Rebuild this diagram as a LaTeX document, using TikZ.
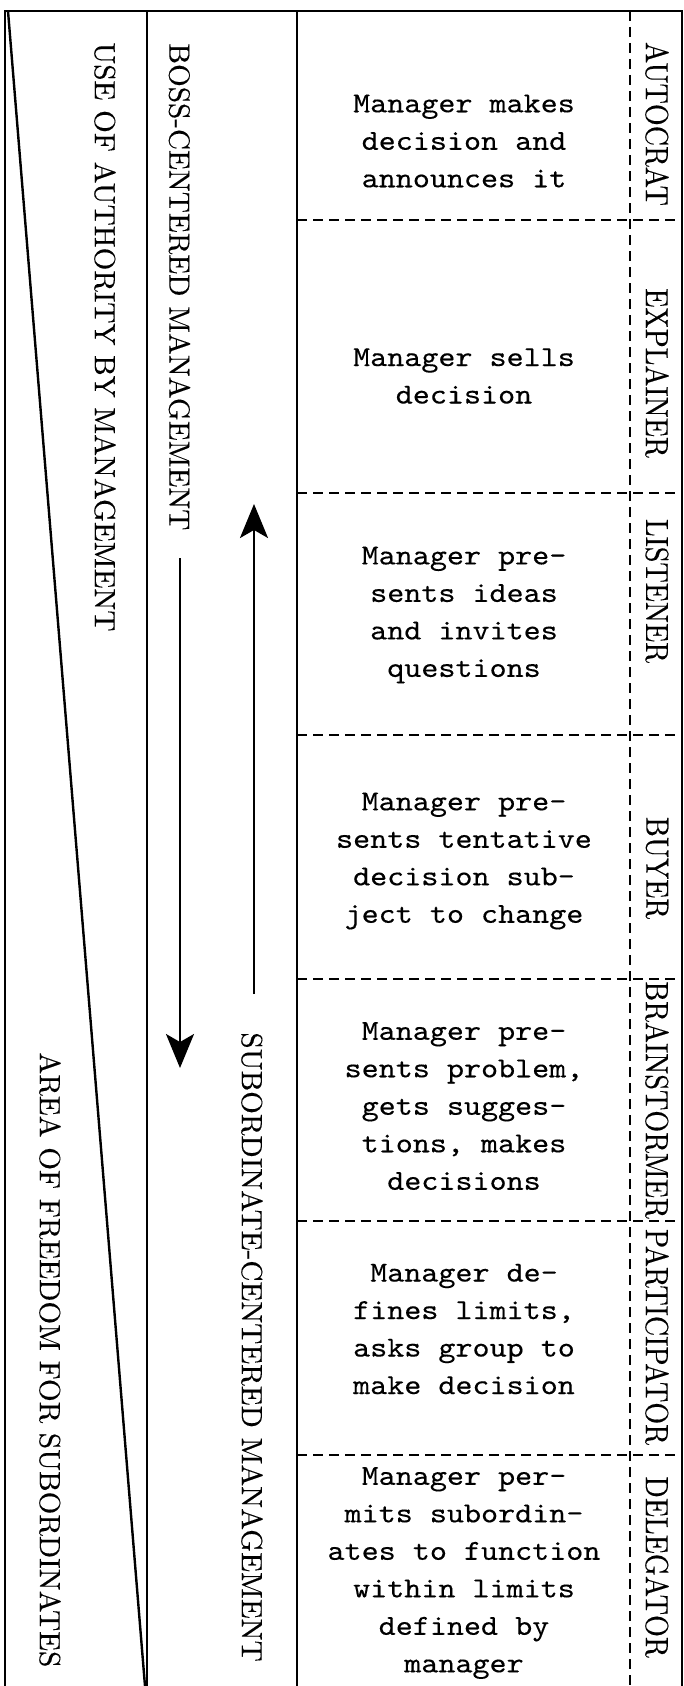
\documentclass[tikz,border=0pt]{standalone}
\usepackage{fontspec}
\usetikzlibrary{arrows.meta}
\newfontfamily\rowfont{lmmono10-regular.otf}[FakeStretch=1.12,FakeBold=0.3]
\newfontfamily\labfont{lmroman10-regular.otf}[FakeBold=0.3]
\newfontfamily\stylefont{lmroman10-regular.otf}[FakeStretch=0.88,FakeBold=0.3]
\begin{document}
\begin{tikzpicture}[x=0.5pt,y=-0.5pt,
  frame/.style={line width=1.4pt},
  diag/.style={line width=1.2pt},
  sep/.style={line width=1pt, dash pattern=on 5pt off 3pt},
  rowtext/.style={font=\rowfont\fontsize{14.5}{18.75}\selectfont, align=center, inner sep=0pt},
  sidelabel/.style={font=\labfont\fontsize{14.6}{17}\selectfont, rotate=-90, inner sep=0pt, anchor=west},
  stylelabel/.style={font=\stylefont\fontsize{16}{18}\selectfont, rotate=-90, inner sep=0pt},
  flow/.style={line width=1.1pt, -{Stealth[length=17pt,width=14pt,inset=4pt]}}
]
\useasboundingbox (0,0) rectangle (684,1686);
% frame
\coordinate (tl) at (5,11);
\coordinate (tr) at (682,11);
\coordinate (bl) at (5,1686);
\coordinate (br) at (682,1686);
\coordinate (c1t) at (147,11);
\coordinate (c1b) at (147,1686);
\coordinate (c2t) at (297,11);
\coordinate (c2b) at (297,1686);
\coordinate (dgt) at (8,11);
\coordinate (dgb) at (145,1686);
\coordinate (vdt) at (630,11);
\coordinate (vdb) at (630,1686);
\draw[frame] (bl) -- (tl) -- (tr) -- (br);
\draw[frame] (c1t) -- (c1b);
\draw[frame] (c2t) -- (c2b);
\draw[diag] (dgt) -- (dgb);
\draw[sep] (vdt) -- (vdb);
% row separators
\foreach \i/\y in {1/220,2/493,3/735,4/979,5/1221,6/1455}{
  \coordinate (s\i l) at (297,\y);
  \coordinate (s\i r) at (682,\y);
  \draw[sep] (s\i l) -- (s\i r);
}
% left column labels
\node[sidelabel] (use) at (105,42) {USE OF AUTHORITY BY MANAGEMENT};
\node[sidelabel] (area) at (50,1052) {AREA OF FREEDOM FOR SUBORDINATES};
\node[sidelabel] (boss) at (179.5,43) {BOSS-CENTERED MANAGEMENT};
\node[sidelabel] (sub) at (252,1032) {SUBORDINATE-CENTERED MANAGEMENT};
% arrows
\coordinate (dn0) at (180,558);
\coordinate (dn1) at (180,1068);
\coordinate (up0) at (254,994);
\coordinate (up1) at (254,504);
\draw[flow] (dn0) -- (dn1);
\draw[flow] (up0) -- (up1);
% row texts
\node[rowtext] (r1) at (464,141) {Manager makes\\decision and\\announces it};
\node[rowtext] (r2) at (464,376) {Manager sells\\decision};
\node[rowtext] (r3) at (464,615) {Manager pre-\\sents ideas\\and invites\\questions};
\node[rowtext] (r4) at (464,861) {Manager pre-\\sents tentative\\decision sub-\\ject to change};
\node[rowtext] (r5) at (464,1106) {Manager pre-\\sents problem,\\gets sugges-\\tions, makes\\decisions};
\node[rowtext] (r6) at (464,1329) {Manager de-\\fines limits,\\asks group to\\make decision};
\node[rowtext] (r7) at (464,1573) {Manager per-\\mits subordin-\\ates to function\\within limits\\defined by\\manager};
% right labels
\node[stylelabel] (l1) at (657,124) {AUTOCRAT};
\node[stylelabel] (l2) at (657,373) {EXPLAINER};
\node[stylelabel] (l3) at (657,591) {LISTENER};
\node[stylelabel] (l4) at (657,868) {BUYER};
\node[stylelabel] (l5) at (657,1100) {BRAINSTORMER};
\node[stylelabel] (l6) at (657,1337) {PARTICIPATOR};
\node[stylelabel] (l7) at (657,1567) {DELEGATOR};
\end{tikzpicture}
\end{document}
